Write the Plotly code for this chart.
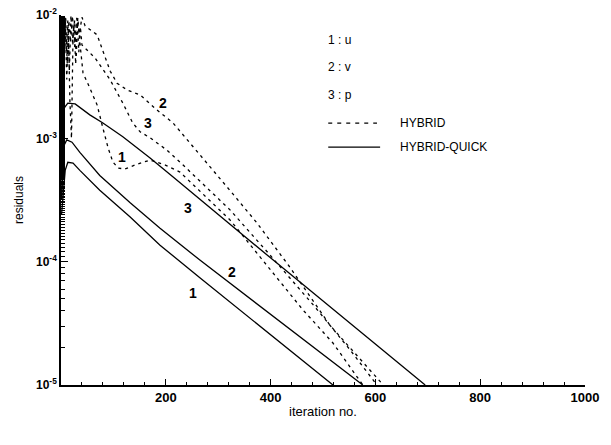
import math
import plotly.graph_objects as go

# ---------------- data ----------------
# HYBRID-QUICK (solid)
quick_u_iter = [1, 8, 13, 23, 36, 74, 132, 189, 265, 519]
quick_u_res = [2.4e-4, 5.5e-4, 6.4e-4, 6.3e-4, 5.5e-4, 3.8e-4, 2.3e-4, 1.36e-4, 7.4e-5, 1.0e-5]

quick_v_iter = [1, 6, 11, 21, 36, 74, 132, 189, 265, 576]
quick_v_res = [3.2e-4, 8.8e-4, 9.7e-4, 9.3e-4, 7.7e-4, 5.0e-4, 3.0e-4, 1.87e-4, 1.03e-4, 1.0e-5]

quick_p_iter = [1, 6, 13, 27, 55, 80, 118, 170, 214, 405, 695]
quick_p_res = [3.2e-4, 1.76e-3, 1.93e-3, 1.90e-3, 1.55e-3, 1.33e-3, 1.03e-3, 6.92e-4, 4.85e-4, 1.03e-4, 1.0e-5]

# HYBRID (dashed)
hyb_u_iter = [0, 2, 5, 8, 11, 14, 17, 20, 23, 26, 29, 32, 36, 42, 55, 69, 80, 90, 99,
              109, 122, 141, 170, 199, 227, 323, 462, 519, 576]
hyb_u_res = [2e-3, 9e-3, 4e-3, 9.5e-3, 3e-3, 8e-3, 2e-3, 1.0e-3, 7e-3, 9e-3, 4.5e-3, 9.5e-3, 6e-3,
             3.39e-3, 2.56e-3, 1.86e-3, 1.21e-3, 8.34e-4, 6.43e-4, 5.74e-4, 5.64e-4, 6.07e-4,
             6.67e-4, 6.07e-4, 5.33e-4, 2.17e-4, 4.05e-5, 2.19e-5, 1.0e-5]

hyb_v_iter = [0, 3, 6, 9, 12, 15, 18, 22, 26, 30, 35, 40, 46, 69, 80, 94, 107, 126, 151, 183,
              214, 246, 279, 322, 374, 437, 513, 615]
hyb_v_res = [4e-3, 9.8e-3, 5e-3, 9.5e-3, 4e-3, 9e-3, 6e-3, 9.8e-3, 5.5e-3, 9.5e-3, 7e-3, 9.6e-3,
             8.15e-3, 6.9e-3, 5.1e-3, 3.5e-3, 2.8e-3, 2.47e-3, 2.25e-3, 1.7e-3, 1.33e-3, 9.2e-4,
             6.3e-4, 3.8e-4, 2.06e-4, 9.0e-5, 3.06e-5, 1.0e-5]

hyb_p_iter = [0, 2, 4, 7, 10, 13, 16, 19, 22, 25, 28, 31, 34, 37, 40, 65, 94, 118, 137, 151,
              170, 202, 233, 323, 399, 485, 552, 603]
hyb_p_res = [3e-3, 8e-3, 2.5e-3, 9.7e-3, 5e-3, 9e-3, 3.5e-3, 9.9e-3, 6e-3, 8.5e-3, 4e-3, 9.3e-3,
             5e-3, 8e-3, 5.71e-3, 4.48e-3, 2.97e-3, 1.93e-3, 1.33e-3, 1.13e-3, 1.01e-3, 8.03e-4,
             6.07e-4, 2.62e-4, 1.13e-4, 4.28e-5, 1.92e-5, 1.0e-5]

x_tick_vals = [200, 400, 600, 800, 1000]
x_tick_text = ["200", "400", "600", "800", "1000"]
y_tick_vals = [1e-5, 1e-4, 1e-3, 1e-2]
y_tick_text = ["10<sup>-5</sup>", "10<sup>-4</sup>", "10<sup>-3</sup>", "10<sup>-2</sup>"]

# curve labels: (text, iteration, residual)
curve_labels = [
    ("2", 195, 1.93e-3), ("3", 166, 1.33e-3), ("1", 116, 7.05e-4),
    ("3", 242, 2.72e-4), ("2", 326, 8.2e-5), ("1", 252, 5.6e-5),
]

FONT = "Liberation Sans"
fig = go.Figure()

dash_style = dict(color="black", width=1.3, dash="3px,4px")
solid_style = dict(color="black", width=1.3)

for xs, ys in [(hyb_u_iter, hyb_u_res), (hyb_v_iter, hyb_v_res), (hyb_p_iter, hyb_p_res)]:
    fig.add_trace(go.Scatter(x=xs, y=ys, mode="lines", line=dash_style, showlegend=False,
                             hoverinfo="skip"))
for xs, ys in [(quick_u_iter, quick_u_res), (quick_v_iter, quick_v_res), (quick_p_iter, quick_p_res)]:
    fig.add_trace(go.Scatter(x=xs, y=ys, mode="lines", line=solid_style, showlegend=False,
                             hoverinfo="skip"))

for txt, xi, yi in curve_labels:
    fig.add_annotation(x=xi, y=math.log10(yi), text=txt, showarrow=False,
                       font=dict(family=FONT, size=14, color="black", weight="bold"))

# legend drawn manually
legend_texts = [("1 : u", 0.932), ("2 : v", 0.859), ("3 : p", 0.784)]
for t, yy in legend_texts:
    fig.add_annotation(xref="paper", yref="paper", x=0.505, y=yy, text=t, showarrow=False,
                       xanchor="left", yanchor="middle",
                       font=dict(family=FONT, size=12, color="black"))
fig.add_shape(type="line", xref="paper", yref="paper", x0=0.510, x1=0.603, y0=0.708, y1=0.708,
              line=dict(color="black", width=1.2, dash="4px,5px"))
fig.add_annotation(xref="paper", yref="paper", x=0.643, y=0.708, text="HYBRID", showarrow=False,
                   xanchor="left", yanchor="middle", font=dict(family=FONT, size=12, color="black"))
fig.add_shape(type="line", xref="paper", yref="paper", x0=0.510, x1=0.609, y0=0.643, y1=0.643,
              line=dict(color="black", width=1.3))
fig.add_annotation(xref="paper", yref="paper", x=0.643, y=0.643, text="HYBRID-QUICK",
                   showarrow=False, xanchor="left", yanchor="middle",
                   font=dict(family=FONT, size=12, color="black"))

fig.update_layout(
    width=611, height=445,
    margin=dict(l=61, r=26, t=15, b=60, autoexpand=False),
    paper_bgcolor="white", plot_bgcolor="white",
    font=dict(family=FONT, color="black"),
    xaxis=dict(range=[0, 1000], tickvals=x_tick_vals, ticktext=x_tick_text, automargin=False,
               showgrid=False, zeroline=False, showline=True, linecolor="black", linewidth=1.8,
               ticks="inside", ticklen=6, tickcolor="black",
               minor=dict(ticks="inside", ticklen=3, dtick=40, tickcolor="black", showgrid=False),
               tickfont=dict(family=FONT, size=13, weight="bold"),
               title=dict(text="iteration no.", font=dict(family=FONT, size=13), standoff=2)),
    yaxis=dict(type="log", range=[-5, -2], tickvals=y_tick_vals, ticktext=y_tick_text,
               automargin=False,
               showgrid=False, zeroline=False, showline=True, linecolor="black", linewidth=1.8,
               ticks="inside", ticklen=7, tickcolor="black",
               minor=dict(ticks="inside", ticklen=4, tickcolor="black", showgrid=False),
               tickfont=dict(family=FONT, size=12, weight="bold"),
               title=dict(text="residuals", font=dict(family=FONT, size=12), standoff=10)),
)

fig.write_html("out.html", config={"displayModeBar": False, "staticPlot": True},
               post_script="document.body.style.margin='0';document.body.style.padding='0';")
